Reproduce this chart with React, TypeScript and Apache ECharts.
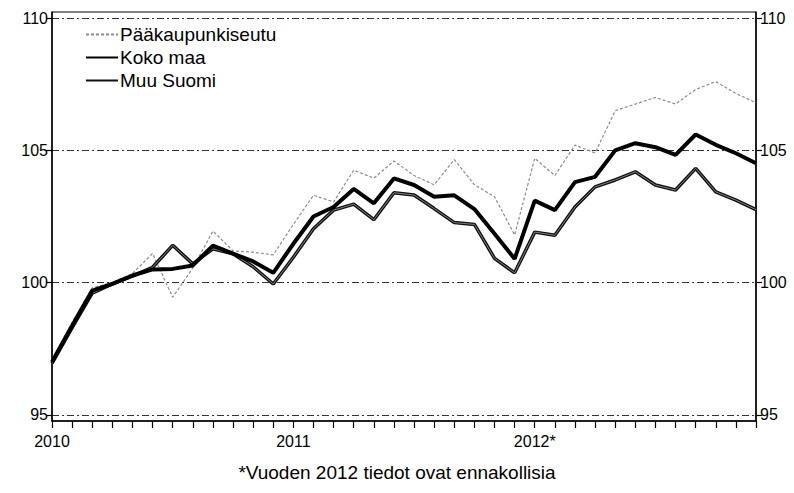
import React, { useEffect, useRef } from "react";
import * as echarts from "echarts";

const months = [
  "2010M01", "2010M02", "2010M03", "2010M04", "2010M05", "2010M06",
  "2010M07", "2010M08", "2010M09", "2010M10", "2010M11", "2010M12",
  "2011M01", "2011M02", "2011M03", "2011M04", "2011M05", "2011M06",
  "2011M07", "2011M08", "2011M09", "2011M10", "2011M11", "2011M12",
  "2012M01", "2012M02", "2012M03", "2012M04", "2012M05", "2012M06",
  "2012M07", "2012M08", "2012M09", "2012M10", "2012M11", "2012M12",
];

const xTickLabels = ["2010", "2011", "2012*"];
const yTickValues = [95, 100, 105, 110];

const seriesNames = ["Pääkaupunkiseutu", "Koko maa", "Muu Suomi"];

const paakaupunkiseutu = [
  97.1, 98.5, 99.8, 100.0, 100.35, 101.1, 99.45, 100.55, 101.95, 101.2, 101.15, 101.05,
  102.2, 103.3, 103.05, 104.25, 103.95, 104.6, 104.05, 103.7, 104.65, 103.7, 103.25, 101.8,
  104.7, 104.05, 105.2, 104.9, 106.5, 106.75, 107.0, 106.75, 107.3, 107.6, 107.15, 106.8,
];

const kokoMaa = [
  97.0, 98.37, 99.7, 99.95, 100.27, 100.5, 100.52, 100.65, 101.4, 101.1, 100.8, 100.37,
  101.47, 102.5, 102.86, 103.54, 103.0, 103.94, 103.69, 103.25, 103.3, 102.78, 101.85, 100.9,
  103.1, 102.74, 103.8, 104.0, 105.0, 105.27, 105.12, 104.83, 105.6, 105.21, 104.89, 104.51,
];

const muuSuomi = [
  96.95, 98.3, 99.6, 99.95, 100.25, 100.58, 101.41, 100.71, 101.28, 101.09, 100.6, 99.95,
  100.96, 102.04, 102.74, 102.97, 102.38, 103.4, 103.31, 102.8, 102.27, 102.2, 100.92, 100.37,
  101.91, 101.79, 102.86, 103.62, 103.88, 104.19, 103.69, 103.5, 104.32, 103.43, 103.12, 102.76,
];

const footnote = "*Vuoden 2012 tiedot ovat ennakollisia";

const FONT = "'Liberation Sans', Arial, sans-serif";

export default function App() {
  const ref = useRef<HTMLDivElement>(null);

  useEffect(() => {
    if (!ref.current) return;
    const chart = echarts.init(ref.current, undefined, { renderer: "svg" });

    const yAxisBase = {
      type: "value" as const,
      min: 94.77,
      max: 110.23,
      axisLine: { show: true, lineStyle: { color: "#000", width: 1.5 } },
      axisTick: {
        show: true,
        inside: false,
        length: 6,
        customValues: yTickValues,
        lineStyle: { color: "#000", width: 1.2 },
      },
      axisLabel: {
        customValues: yTickValues,
        color: "#000",
        fontSize: 16,
        fontFamily: FONT,
        margin: 4,
      },
    };

    chart.setOption({
      animation: false,
      backgroundColor: "#fff",
      grid: {
        left: 52,
        right: 38,
        top: 12,
        bottom: 72,
        show: true,
        borderColor: "#000",
        borderWidth: 1,
        backgroundColor: "transparent",
      },
      title: {
        text: footnote,
        left: "center",
        top: 458,
        textStyle: { fontSize: 19, fontWeight: "normal", color: "#000", fontFamily: FONT },
      },
      legend: {
        data: seriesNames,
        orient: "vertical",
        left: 85,
        top: 25,
        padding: 0,
        itemWidth: 32,
        itemHeight: 2,
        itemGap: 4,
        itemStyle: { opacity: 0 },
        textStyle: { fontSize: 19, color: "#000", fontFamily: FONT, padding: [0, 0, 0, -3] },
      },
      xAxis: {
        type: "category",
        data: months,
        boundaryGap: false,
        axisLine: { show: true, lineStyle: { color: "#000", width: 1.5 } },
        axisTick: { show: true, interval: 0, length: 7, lineStyle: { color: "#000", width: 1.2 } },
        axisLabel: {
          interval: (index: number) => index % 12 === 0,
          formatter: (_v: string, index: number) => xTickLabels[Math.floor(index / 12)] ?? "",
          color: "#000",
          fontSize: 16,
          fontFamily: FONT,
          margin: 12,
        },
        splitLine: { show: false },
      },
      yAxis: [
        {
          ...yAxisBase,
          position: "left",
          splitLine: {
            show: true,
            lineStyle: { color: "#333", width: 1, type: [7, 3, 2, 3] },
          },
        },
        {
          ...yAxisBase,
          position: "right",
          splitLine: { show: false },
        },
      ],
      series: [
        {
          name: "Pääkaupunkiseutu",
          type: "line",
          data: paakaupunkiseutu,
          symbol: "none",
          z: 2,
          itemStyle: { color: "#8c8c8c" },
          lineStyle: { color: "#8c8c8c", width: 1.2, type: [3, 2] },
        },
        {
          name: "Muu Suomi",
          type: "line",
          data: muuSuomi,
          symbol: "none",
          z: 3,
          itemStyle: { color: "#111" },
          lineStyle: { color: "#111", width: 3.5 },
        },
        {
          name: "Muu Suomi (keskiviiva)",
          type: "line",
          data: muuSuomi,
          symbol: "none",
          silent: true,
          z: 4,
          itemStyle: { color: "#808080" },
          lineStyle: { color: "#808080", width: 1 },
        },
        {
          name: "Koko maa",
          type: "line",
          data: kokoMaa,
          symbol: "none",
          z: 5,
          itemStyle: { color: "#000" },
          lineStyle: { color: "#000", width: 4 },
        },
      ],
    });

    return () => chart.dispose();
  }, []);

  return (
    <div
      ref={ref}
      style={{ position: "fixed", left: 0, top: 0, width: 794, height: 493, background: "#fff" }}
    />
  );
}
